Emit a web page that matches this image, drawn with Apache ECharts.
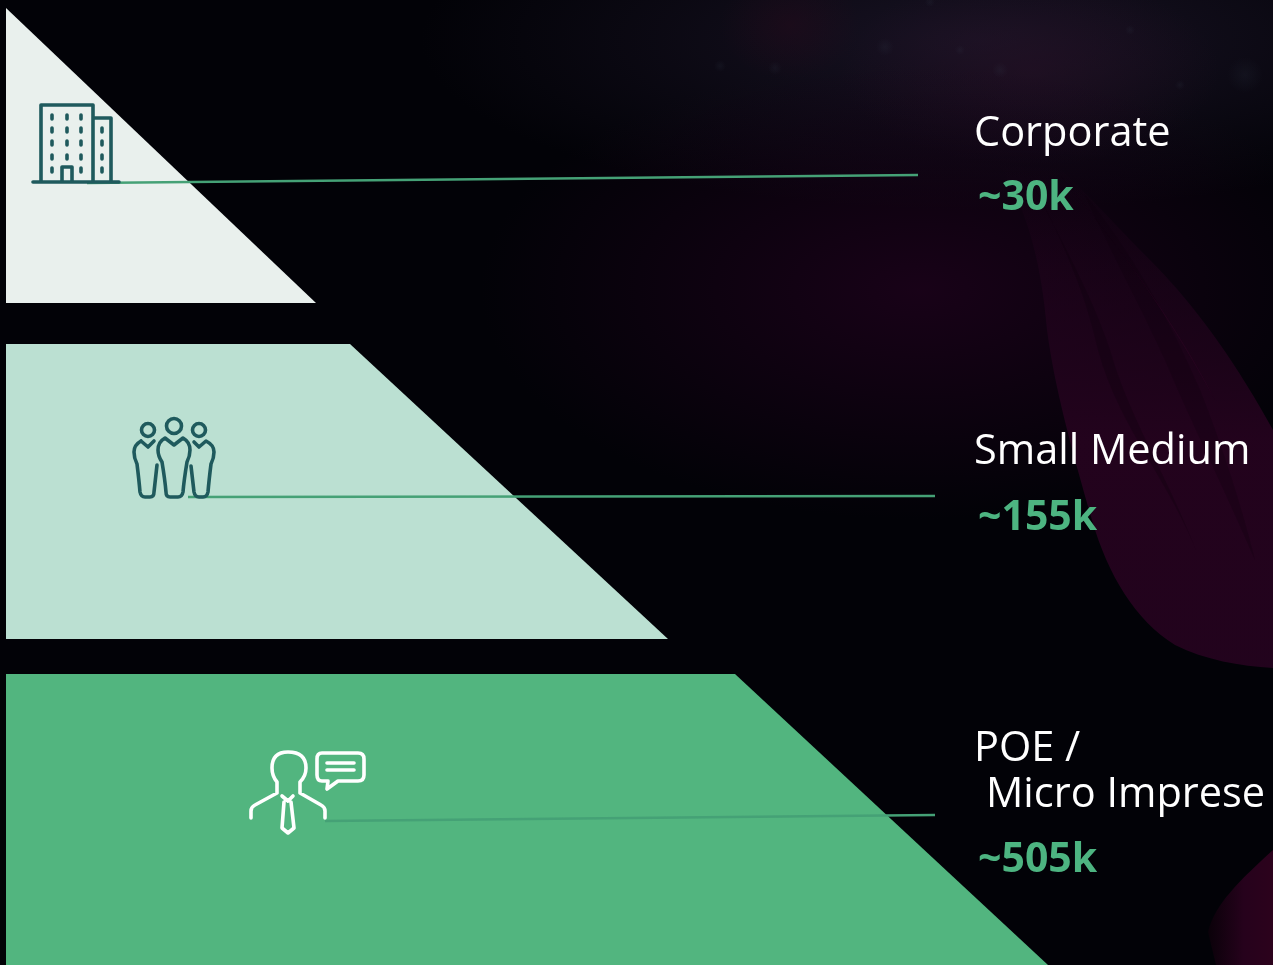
<!DOCTYPE html>
<html>
<head>
<meta charset="utf-8">
<style>html,body{margin:0;padding:0;background:#020207}#main{width:1273px;height:965px}</style>
<script src="https://cdn.jsdelivr.net/npm/echarts@6/dist/echarts.min.js"></script>
</head>
<body>
<div id="main"></div>
<script>
// Customer segments, top of the pyramid first
const categories = ['Corporate', 'Small Medium', 'POE /\n Micro Imprese'];
const customerCounts = [30, 155, 505];

// Slide layout in pixels: one stepped band per segment
const LEFT = 6;
const bands = [
  { top: 8,   topRight: 6,   bottom: 303, bottomRight: 316,  color: '#e9f0ed' },
  { top: 344, topRight: 350, bottom: 639, bottomRight: 668,  color: '#bbe0d2' },
  { top: 674, topRight: 735, bottom: 965, bottomRight: 1048, color: '#52b57f' }
];
const connectors = [
  { from: [87, 183],  to: [918, 175] },
  { from: [188, 497], to: [935, 496] },
  { from: [325, 821], to: [935, 815] }
];
// Top edge of each caption line
const captions = [
  { x: 974, lines: [113], value: 178 },
  { x: 974, lines: [431], value: 498 },
  { x: 974, lines: [728, 774], value: 840 }
];

const FONT = '"Open Sans", "Noto Sans", sans-serif';

// Registers an SVG path string as a shape the graphic component can place
let shapeCount = 0;
function svgShape(d) {
  const name = 'svgShape' + (shapeCount++);
  echarts.graphic.registerShape(name, echarts.graphic.extendPath(d, {}));
  return name;
}

// Icon outlines
function buildingPath() {
  let d = 'M33 182L119 182M41 182L41 105L93 105L93 182M93 118L111 118L111 182M62 182L62 167L72 167L72 182';
  const dash = (x, y) => `M${x} ${y - 2}L${x} ${y + 2}`;
  [117, 130, 143, 157, 170].forEach(y => {
    [52, 67, 81].forEach(x => { if (!(y === 170 && x === 67)) d += dash(x, y); });
    if (y !== 117) d += dash(102, y);
  });
  return d;
}
const circlePath = (cx, cy, r) => `M${cx - r} ${cy}A${r} ${r} 0 1 1 ${cx + r} ${cy}A${r} ${r} 0 1 1 ${cx - r} ${cy}Z`;
const peoplePath = [
  circlePath(174, 426, 7.5), circlePath(148, 430, 6.5), circlePath(199, 430, 6.5),
  'M165 438L174 445L183 438Q190 442 190 450Q190 456 187 462Q184 480 183 492Q182 497 178 497L170 497Q166 497 166 492Q165 480 162 462Q158 456 158 450Q158 442 165 438Z',
  'M141 441L148 447L154 441M141 441Q134 445 134 452Q134 458 137 464Q139 480 140 492Q141 497 145 497L150 497Q154 497 154 492L157 465',
  'M194 442L199 447L206 441Q214 445 214 452Q214 458 211 464Q209 480 208 492Q207 497 203 497L199 497Q195 497 194 492L191 466'
].join('');
const advisorPath = [
  'M251 818L251 811Q251 807 255 805L277 793L277 782Q272 776 272 768Q272 752 288 752Q306 752 306 768Q306 776 300 782L300 793L321 805Q325 807 325 811L325 818',
  'M282 796L288 801L293 796M284 802L282 828L288 833L294 828L291 802',
  'M322 753L358 753Q364 753 364 759L364 775Q364 781 358 781L338 781L327 789L328 781L322 781Q317 781 317 775L317 759Q317 753 322 753Z',
  'M327 763L354 763M327 770L354 770'
].join('');

// Dark stage backdrop: haze, curtain folds and a few faint stars
const glow = (cx, cy, rx, ry, color) => ({
  type: 'circle', silent: true,
  x: cx, y: cy, scaleX: rx / 100, scaleY: ry / 100,
  shape: { cx: 0, cy: 0, r: 100 },
  style: { fill: { type: 'radial', x: 0.5, y: 0.5, r: 0.5, colorStops: [{ offset: 0, color }, { offset: 1, color: color.replace(/[\d.]+\)$/, '0)') }] } }
});
const fold = (d, fill) => ({ type: svgShape(d), silent: true, shape: {}, style: { fill } });
const stars = [[885, 47, 9], [960, 50, 5], [1245, 75, 18], [1000, 70, 8], [720, 66, 6], [775, 68, 7], [1130, 30, 5], [930, 2, 5], [1180, 85, 5]];
const backdrop = [
  glow(980, 40, 560, 170, 'rgba(26,20,38,0.9)'),
  glow(1030, 70, 190, 95, 'rgba(40,16,38,0.55)'),
  glow(790, 25, 70, 55, 'rgba(42,10,28,0.4)'),
  glow(920, 290, 440, 230, 'rgba(30,2,28,0.8)'),
  fold('M1000 165C1030 215 1042 270 1047 330C1055 390 1072 450 1092 520C1108 575 1135 620 1175 645C1205 660 1240 666 1273 668L1273 430C1240 370 1200 310 1150 260C1115 225 1085 190 1055 165Z',
    { type: 'linear', x: 0, y: 0, x2: 0, y2: 1, colorStops: [{ offset: 0, color: 'rgba(38,4,32,0)' }, { offset: 0.25, color: 'rgba(38,4,32,0.45)' }, { offset: 0.55, color: 'rgba(38,3,31,0.9)' }, { offset: 1, color: 'rgba(36,3,30,0.95)' }] }),
  fold('M1030 178C1060 240 1090 290 1110 350C1130 420 1165 470 1200 560C1170 480 1120 430 1098 350C1085 290 1060 235 1030 178Z', 'rgba(12,0,12,0.28)'),
  fold('M1085 195C1130 250 1170 320 1200 390C1220 440 1240 500 1255 560C1225 490 1190 420 1165 360C1140 305 1110 250 1085 195Z', 'rgba(12,0,12,0.25)'),
  fold('M1060 175C1110 235 1160 300 1215 400C1180 330 1130 260 1060 175Z', 'rgba(70,8,50,0.22)'),
  fold('M1273 850C1240 880 1214 905 1208 932L1216 965L1273 965Z',
    { type: 'linear', x: 0, y: 0, x2: 1, y2: 0, colorStops: [{ offset: 0, color: '#0a0109' }, { offset: 0.55, color: '#26021c' }, { offset: 1, color: '#2c021c' }] })
].concat(stars.map(([cx, cy, r]) => glow(cx, cy, r, r, 'rgba(60,74,90,0.13)')));

const icon = (d, stroke) => ({
  type: svgShape(d), z: 5, silent: true,
  shape: {},
  style: { fill: 'none', stroke, lineWidth: 3.6, lineCap: 'round', lineJoin: 'round' }
});

const chart = echarts.init(document.getElementById('main'), null, { renderer: 'canvas' });
chart.setOption({
  animation: false,
  backgroundColor: '#020207',
  grid: { left: 0, right: 0, top: 0, bottom: 0 },
  xAxis: { type: 'value', min: 0, max: 1273, show: false },
  yAxis: { type: 'value', min: 0, max: 965, inverse: true, show: false },
  graphic: { elements: backdrop.map(e => Object.assign({ z: -1 }, e)).concat([
    icon(buildingPath(), '#1f5a5d'),
    icon(peoplePath, '#1f5a5d'),
    icon(advisorPath, '#ffffff')
  ]) },
  series: [
    {
      type: 'custom', coordinateSystem: 'cartesian2d', clip: false, z: 2,
      data: customerCounts.map((v, i) => [i, v]),
      renderItem(params, api) {
        const b = bands[api.value(0)];
        const pts = [[LEFT, b.top], [b.topRight, b.top], [b.bottomRight, b.bottom], [LEFT, b.bottom]].map(p => api.coord(p));
        return { type: 'polygon', shape: { points: pts }, style: { fill: b.color } };
      }
    },
    {
      type: 'custom', coordinateSystem: 'cartesian2d', clip: false, z: 3,
      data: customerCounts.map((v, i) => [i, v]),
      renderItem(params, api) {
        const c = connectors[api.value(0)];
        const a = api.coord(c.from), e = api.coord(c.to);
        return { type: 'line', shape: { x1: a[0], y1: a[1], x2: e[0], y2: e[1] }, style: { stroke: '#45a176', lineWidth: 2.6 } };
      }
    },
    {
      type: 'custom', coordinateSystem: 'cartesian2d', clip: false, z: 4,
      data: customerCounts.map((v, i) => [i, v]),
      renderItem(params, api) {
        const i = api.value(0);
        const cap = captions[i];
        const children = categories[i].split('\n').map((line, k) => {
          const p = api.coord([cap.x + (line.startsWith(' ') ? 12 : 0), cap.lines[k]]);
          return { type: 'text', style: { x: p[0], y: p[1], text: line.trim(), fill: '#ffffff', font: `400 41.5px ${FONT}`, textAlign: 'left', textVerticalAlign: 'top' } };
        });
        const q = api.coord([cap.x + 4, cap.value]);
        children.push({ type: 'text', style: { x: q[0], y: q[1], text: `~${api.value(1)}k`, fill: '#4db481', font: `700 41px ${FONT}`, textAlign: 'left', textVerticalAlign: 'top' } });
        return { type: 'group', children };
      }
    }
  ]
});
</script>
</body>
</html>
